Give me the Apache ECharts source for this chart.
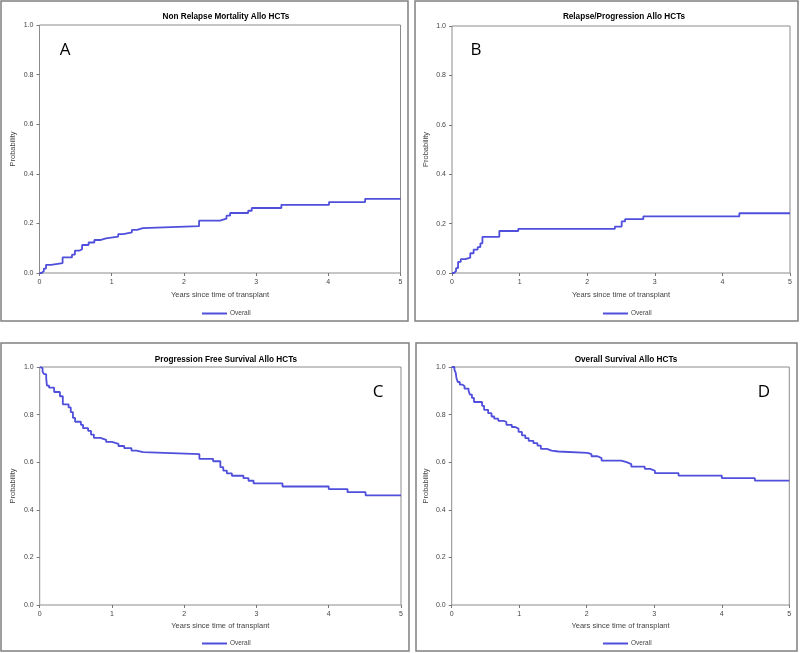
<!DOCTYPE html>
<html>
<head>
<meta charset="utf-8">
<title>Allo HCTs</title>
<script src="https://cdn.jsdelivr.net/npm/echarts@6/dist/echarts.min.js"></script>
<style>
  html, body { margin: 0; padding: 0; background: #fff; }
  #chart { width: 800px; height: 653px; }
</style>
</head>
<body>
<div id="chart"></div>
<script>
// (years, probability) - step curves
var nrmTime = [0, 0.03, 0.06, 0.09, 0.16, 0.32, 0.45, 0.49, 0.55, 0.59, 0.68, 0.76, 0.84, 0.92, 1.09, 1.16, 1.28, 1.35, 1.43, 2.21, 2.50, 2.59, 2.64, 2.89, 2.94, 3.35, 4.01, 4.51, 5.0];
var nrmProb = [0, 0.008, 0.018, 0.033, 0.04, 0.063, 0.074, 0.09, 0.096, 0.113, 0.123, 0.133, 0.14, 0.147, 0.157, 0.164, 0.174, 0.181, 0.189, 0.211, 0.219, 0.231, 0.242, 0.251, 0.262, 0.275, 0.286, 0.299, 0.299];

var relTime = [0, 0.03, 0.06, 0.09, 0.13, 0.2, 0.27, 0.32, 0.38, 0.42, 0.45, 0.70, 0.98, 2.41, 2.51, 2.56, 2.83, 4.25, 5.0];
var relProb = [0, 0.008, 0.02, 0.045, 0.056, 0.062, 0.08, 0.095, 0.105, 0.12, 0.146, 0.17, 0.179, 0.188, 0.209, 0.218, 0.229, 0.242, 0.242];

var pfsTime = [0, 0.02, 0.04, 0.06, 0.09, 0.1, 0.13, 0.2, 0.28, 0.32, 0.4, 0.43, 0.46, 0.49, 0.57, 0.6, 0.67, 0.71, 0.75, 0.84, 0.92, 1.0, 1.09, 1.17, 1.27, 1.34, 1.43, 2.21, 2.4, 2.5, 2.54, 2.59, 2.66, 2.82, 2.89, 2.96, 3.36, 4.0, 4.26, 4.51, 5.0];
var pfsProb = [1, 0.995, 0.98, 0.97, 0.953, 0.922, 0.913, 0.895, 0.877, 0.843, 0.83, 0.81, 0.786, 0.77, 0.757, 0.743, 0.732, 0.716, 0.702, 0.694, 0.685, 0.677, 0.668, 0.659, 0.649, 0.642, 0.634, 0.614, 0.604, 0.579, 0.565, 0.553, 0.543, 0.533, 0.522, 0.511, 0.498, 0.487, 0.474, 0.461, 0.461];

var osTime = [0, 0.04, 0.06, 0.07, 0.09, 0.12, 0.16, 0.19, 0.25, 0.27, 0.3, 0.33, 0.45, 0.48, 0.54, 0.59, 0.63, 0.69, 0.77, 0.81, 0.89, 0.94, 0.99, 1.04, 1.09, 1.14, 1.21, 1.27, 1.32, 1.41, 1.48, 1.58, 2.01, 2.07, 2.16, 2.22, 2.51, 2.59, 2.66, 2.86, 2.94, 3.01, 3.36, 4.0, 4.49, 5.0];
var osProb = [1, 0.989, 0.975, 0.954, 0.937, 0.926, 0.919, 0.909, 0.9, 0.884, 0.87, 0.853, 0.837, 0.82, 0.806, 0.792, 0.783, 0.774, 0.769, 0.757, 0.748, 0.741, 0.727, 0.713, 0.701, 0.69, 0.68, 0.67, 0.656, 0.649, 0.645, 0.639, 0.634, 0.625, 0.617, 0.607, 0.6, 0.592, 0.581, 0.572, 0.564, 0.554, 0.544, 0.533, 0.523, 0.523];

var panelTitles = ['Non Relapse Mortality Allo HCTs', 'Relapse/Progression Allo HCTs', 'Progression Free Survival Allo HCTs', 'Overall Survival Allo HCTs'];
var panelLetters = ['A', 'B', 'C', 'D'];
var seriesName = 'Overall';
var xName = 'Years since time of transplant';
var yName = 'Probability';

var curves = [[nrmTime, nrmProb], [relTime, relProb], [pfsTime, pfsProb], [osTime, osProb]];

// layout of each panel (pixels)
var panels = [
    { grid: [39.5, 25, 361, 248], box: [1, 1, 407, 320], title: [221, 8], letter: [65, 50], yGap: 23, xGap: 18, legend: [197, 305] },
    { grid: [452, 26, 338, 247], box: [415, 1, 383, 320], title: [619, 8], letter: [476, 50], yGap: 22, xGap: 18, legend: [598, 305] },
    { grid: [39.7, 367, 361.3, 238], box: [1, 343, 408, 308], title: [221, 351], letter: [378, 392], yGap: 23, xGap: 17, legend: [197, 635] },
    { grid: [451.7, 367, 337.6, 238], box: [416, 343, 381, 308], title: [621, 351], letter: [764, 392], yGap: 22, xGap: 17, legend: [598, 635] }
];

var lineColor = '#4f4fdc';
var fontFam = '"Liberation Sans", Arial, sans-serif';

var chart = echarts.init(document.getElementById('chart'));

var grids = [], xAxes = [], yAxes = [], series = [], titles = [], legends = [], graphics = [];

panels.forEach(function (p, i) {
    grids.push({
        left: p.grid[0], top: p.grid[1], width: p.grid[2], height: p.grid[3],
        show: true, borderColor: '#8c8c8c', borderWidth: 1, backgroundColor: '#fff',
        outerBoundsMode: 'none'
    });
    xAxes.push({
        type: 'value', gridIndex: i, min: 0, max: 5, interval: 1,
        name: xName, nameLocation: 'middle', nameGap: p.xGap,
        nameTextStyle: { fontSize: 7.5, color: '#444', fontFamily: fontFam },
        axisLine: { show: false },
        axisTick: { show: true, length: 3, lineStyle: { color: '#777' } },
        axisLabel: { fontSize: 7, color: '#444', margin: 6, fontFamily: fontFam },
        splitLine: { show: false }
    });
    yAxes.push({
        type: 'value', gridIndex: i, min: 0, max: 1, interval: 0.2,
        name: yName, nameLocation: 'middle', nameGap: p.yGap,
        nameTextStyle: { fontSize: 7.5, color: '#444', fontFamily: fontFam },
        axisLine: { show: false },
        axisTick: { show: true, length: 3, lineStyle: { color: '#777' } },
        axisLabel: { fontSize: 7, color: '#444', margin: 6, fontFamily: fontFam,
            formatter: function (v) { return v.toFixed(1); } },
        splitLine: { show: false }
    });
    var pts = curves[i][0].map(function (t, k) { return [t, curves[i][1][k]]; });
    series.push({
        name: seriesName, type: 'line', step: 'end', smooth: false, xAxisIndex: i, yAxisIndex: i,
        data: pts, symbol: 'none', lineStyle: { color: lineColor, width: 1.8 },
        itemStyle: { color: lineColor }
    });
    titles.push({
        text: panelTitles[i], left: p.title[0], top: p.title[1], textAlign: 'center',
        textStyle: { fontSize: 8.2, fontWeight: 'bold', color: '#000', fontFamily: fontFam }
    });
    legends.push({
        data: [seriesName], left: p.legend[0], top: p.legend[1],
        icon: 'rect', itemWidth: 25, itemHeight: 2, selectedMode: false,
        textStyle: { fontSize: 6.5, color: '#444', fontFamily: fontFam, padding: [0, 0, 0, -2] }
    });
    graphics.push({
        type: 'rect', shape: { x: p.box[0], y: p.box[1], width: p.box[2], height: p.box[3] },
        style: { fill: null, stroke: '#808080', lineWidth: 1.5 }, z: -1
    });
    graphics.push({
        type: 'text', x: p.letter[0], y: p.letter[1],
        style: { text: panelLetters[i], fontSize: 17, fill: '#000', fontFamily: '"Open Sans", "Liberation Sans", sans-serif',
            align: 'center', verticalAlign: 'middle' }
    });
});

var option = {
    animation: false,
    backgroundColor: '#fff',
    title: titles,
    legend: legends,
    grid: grids,
    xAxis: xAxes,
    yAxis: yAxes,
    series: series,
    graphic: graphics
};
chart.setOption(option);
</script>
</body>
</html>
